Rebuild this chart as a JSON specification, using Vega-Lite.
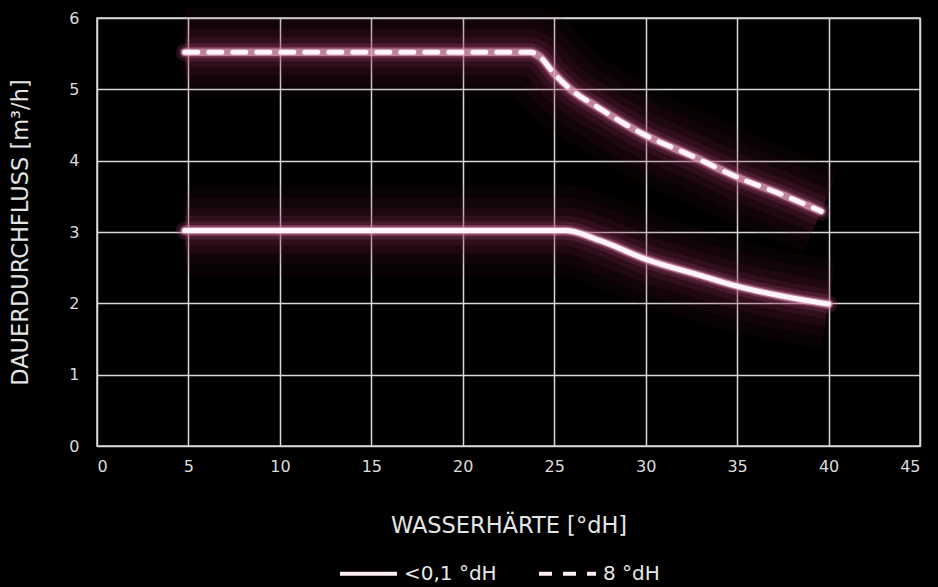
{
  "$schema": "https://vega.github.io/schema/vega-lite/v6.json",
  "autosize": {"type": "none"},
  "width": 823,
  "height": 428,
  "padding": {"left": 97, "top": 18, "right": 18, "bottom": 141},
  "background": "#000000",
  "config": {
    "view": {"stroke": "#d9d9d9", "strokeWidth": 1.5},
    "font": "DejaVu Sans",
    "axis": {
      "grid": true, "gridColor": "#d9d9d9", "gridWidth": 1.5, "gridOpacity": 1,
      "domain": false, "ticks": false,
      "labelColor": "#dcdcdc", "labelFont": "DejaVu Sans", "labelFontSize": 16,
      "titleColor": "#e4e4e4", "titleFont": "DejaVu Sans", "titleFontSize": 22.5, "titleFontWeight": "normal"
    },
    "legend": {"labelColor": "#e8e8e8", "labelFont": "DejaVu Sans", "labelFontSize": 20}
  },
  "data": {"values": [
    {"series": "<0,1 °dH", "x": 4.8, "y": 3.02},
    {"series": "<0,1 °dH", "x": 25.6, "y": 3.02},
    {"series": "<0,1 °dH", "x": 27.5, "y": 2.88},
    {"series": "<0,1 °dH", "x": 30, "y": 2.62},
    {"series": "<0,1 °dH", "x": 33, "y": 2.39},
    {"series": "<0,1 °dH", "x": 35, "y": 2.24},
    {"series": "<0,1 °dH", "x": 37.5, "y": 2.1},
    {"series": "<0,1 °dH", "x": 40, "y": 1.99},
    {"series": "8 °dH", "x": 4.8, "y": 5.52},
    {"series": "8 °dH", "x": 23.7, "y": 5.52},
    {"series": "8 °dH", "x": 24.2, "y": 5.46},
    {"series": "8 °dH", "x": 25, "y": 5.22},
    {"series": "8 °dH", "x": 25.85, "y": 5.01},
    {"series": "8 °dH", "x": 27.5, "y": 4.73},
    {"series": "8 °dH", "x": 29.8, "y": 4.38},
    {"series": "8 °dH", "x": 32.5, "y": 4.07},
    {"series": "8 °dH", "x": 35, "y": 3.77},
    {"series": "8 °dH", "x": 37.5, "y": 3.52},
    {"series": "8 °dH", "x": 39.6, "y": 3.29}
  ]},
  "encoding": {
    "x": {"field": "x", "type": "quantitative",
      "scale": {"domain": [0, 45], "nice": false},
      "axis": {"values": [0,5,10,15,20,25,30,35,40,45], "labelPadding": 12, "title": "WASSERHÄRTE [°dH]", "titlePadding": 40}},
    "y": {"field": "y", "type": "quantitative",
      "scale": {"domain": [0, 6], "nice": false},
      "axis": {"values": [0,1,2,3,4,5,6], "labelPadding": 18, "title": "DAUERDURCHFLUSS [m³/h]", "titlePadding": 36}},
    "detail": {"field": "series"}
  },
  "layer": [
    {"mark": {"type": "line", "strokeWidth": 90, "color": "#6a1a40", "opacity": 0.08, "strokeCap": "butt", "interpolate": "monotone"}},
    {"mark": {"type": "line", "strokeWidth": 66, "color": "#7a2048", "opacity": 0.09, "strokeCap": "butt", "interpolate": "monotone"}},
    {"mark": {"type": "line", "strokeWidth": 46, "color": "#8a2a55", "opacity": 0.11, "strokeCap": "butt", "interpolate": "monotone"}},
    {"mark": {"type": "line", "strokeWidth": 30, "color": "#a03a66", "opacity": 0.13, "strokeCap": "butt", "interpolate": "monotone"}},
    {"mark": {"type": "line", "strokeWidth": 18, "color": "#b84e7c", "opacity": 0.2, "strokeCap": "round", "interpolate": "monotone"}},
    {"mark": {"type": "line", "strokeWidth": 11, "color": "#d070a0", "opacity": 0.32, "strokeCap": "round", "interpolate": "monotone"}},
    {"mark": {"type": "line", "strokeWidth": 7.5, "color": "#f0b8d0", "opacity": 0.6, "strokeCap": "round", "interpolate": "monotone"}},
    {"mark": {"type": "line", "strokeWidth": 5, "color": "#fff4f8", "opacity": 1, "strokeCap": "round", "interpolate": "monotone"},
     "encoding": {
       "strokeDash": {"field": "series", "type": "nominal",
         "scale": {"domain": ["<0,1 °dH", "8 °dH"], "range": [[1, 0], [13, 11]]},
         "legend": {"title": null, "orient": "none", "direction": "horizontal", "legendX": 241, "legendY": 525,
           "symbolType": "stroke", "symbolSize": 3249, "symbolStrokeWidth": 4, "symbolStrokeColor": "#fff0f6",
           "columnPadding": 34, "labelOffset": 5}}
     }}
  ]
}
